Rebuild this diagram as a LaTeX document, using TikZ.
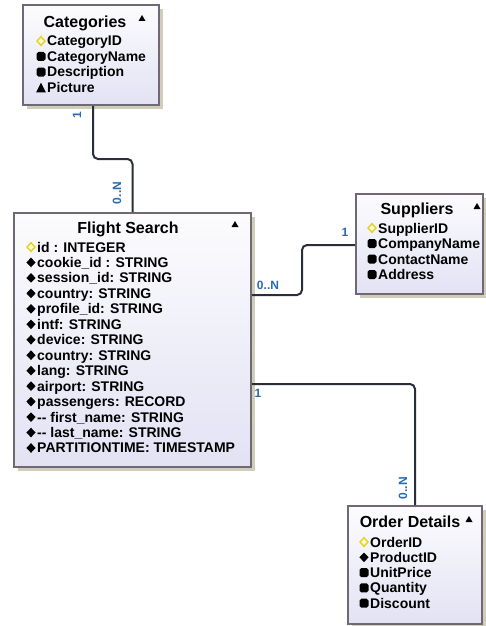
\documentclass[tikz,border=0pt]{standalone}
\usepackage{fontspec}
\setmainfont{Liberation Sans}
\usetikzlibrary{shadows}

\definecolor{boxline}{RGB}{112,104,116}
\definecolor{boxtop}{RGB}{252,252,254}
\definecolor{boxbot}{RGB}{226,226,244}
\definecolor{shadowc}{RGB}{196,194,168}
\definecolor{card}{RGB}{38,106,180}
\definecolor{keyfill}{RGB}{255,252,215}
\definecolor{keyline}{RGB}{230,210,30}
\definecolor{wire}{RGB}{40,46,58}

% attribute markers, drawn left of a row's text
\newcommand\keyat[1]{\filldraw[fill=keyfill, draw=keyline, line width=1.4pt]
  ([shift={(-6,-5)}]#1.base west) +(-4,0) -- +(0,-4.3) -- +(4,0) -- +(0,4.3) -- cycle;}
\newcommand\attrat[1]{\fill
  ([shift={(-6,-5)}]#1.base west) +(-4.6,0) -- +(0,-4.8) -- +(4.6,0) -- +(0,4.8) -- cycle;}
\newcommand\colat[1]{\fill[rounded corners=1.8pt]
  ([shift={(-6,-5)}]#1.base west) +(-4.5,-4.5) rectangle +(4.5,4.5);}
\newcommand\picat[1]{\fill
  ([shift={(-6,-5)}]#1.base west) +(-4.8,4.8) -- +(4.8,4.8) -- +(0,-4.8) -- cycle;}

\tikzset{
  entity/.style={draw=boxline, line width=2pt, anchor=north west, inner sep=0pt,
    top color=boxtop, bottom color=boxbot,
    drop shadow={shadow xshift=4pt, shadow yshift=-4pt, fill=shadowc, opacity=0.8}},
  title/.style={anchor=base, inner sep=0pt, font=\bfseries\fontsize{16}{16}\selectfont},
  row/.style={anchor=base west, inner sep=0pt, font=\bfseries\fontsize{14}{14}\selectfont},
  card/.style={text=card, inner sep=0pt, font=\bfseries\fontsize{12}{12}\selectfont},
  wire/.style={draw=wire, line width=2pt, rounded corners=5pt},
}

\begin{document}
\begin{tikzpicture}[x=1pt, y=-1pt]
\useasboundingbox (0,0) rectangle (485,626);

% entity boxes
\node[entity, minimum width=136pt, minimum height=100pt] (cat) at (22,4) {};
\node[entity, minimum width=237pt, minimum height=254pt] (fs) at (13,212) {};
\node[entity, minimum width=127pt, minimum height=100pt] (sup) at (355,193) {};
\node[entity, minimum width=134pt, minimum height=118pt] (od) at (347,505) {};

% sort markers
\foreach \x/\y in {142/18, 235/224, 477/206, 469/519}
  \fill (\x-3.5,\y+3) -- (\x+3.5,\y+3) -- (\x,\y-3) -- cycle;

% Categories
\node[title] (catT) at (85,27.5) {Categories};
\node[row] (cat1) at (47,46) {CategoryID};
\node[row] (cat2) at (47,61.5) {CategoryName};
\node[row] (cat3) at (47,77) {Description};
\node[row] (cat4) at (47,92.5) {Picture};
\keyat{cat1} \colat{cat2} \colat{cat3} \picat{cat4}

% Flight Search
\node[title] (fsT) at (128,233) {Flight Search};
\node[row] (fs0) at (37,252) {id : INTEGER};
\keyat{fs0}
\foreach \t [count=\i] in {cookie\_id : STRING, session\_id: STRING, country: STRING,
    profile\_id: STRING, intf: STRING, device: STRING, country: STRING, lang: STRING,
    airport: STRING, passengers: RECORD, -{}- first\_name: STRING, -{}- last\_name: STRING,
    PARTITIONTIME: TIMESTAMP}
  {\node[row] (fs\i) at (37,252+15.46*\i) {\t}; \attrat{fs\i}}

% Suppliers
\node[title] (supT) at (417,214.5) {Suppliers};
\node[row] (sup1) at (378,233) {SupplierID};
\node[row] (sup2) at (378,248.5) {CompanyName};
\node[row] (sup3) at (378,264) {ContactName};
\node[row] (sup4) at (378,279.5) {Address};
\keyat{sup1} \colat{sup2} \colat{sup3} \colat{sup4}

% Order Details
\node[title] (odT) at (410,527.5) {Order Details};
\node[row] (od1) at (370,547) {OrderID};
\node[row] (od2) at (370,562.3) {ProductID};
\node[row] (od3) at (370,577.6) {UnitPrice};
\node[row] (od4) at (370,592.9) {Quantity};
\node[row] (od5) at (370,608.2) {Discount};
\keyat{od1} \attrat{od2} \colat{od3} \colat{od4} \colat{od5}

% relationships
\draw[wire] ([xshift=2pt]cat.south) -- ([xshift=2pt]cat.south |- 0,159) -| (fs.north);
\draw[wire] (fs.east |- 0,295) -- (302,295) -- (302,245) -- (sup.west |- 0,245);
\draw[wire] (fs.east |- 0,384) -| (od.north);

% cardinalities
\node[card, rotate=90] (c1) at (77,115) {1};
\node[card, rotate=90] (c2) at (117,193) {0..N};
\node[card] (c3) at (268,285) {0..N};
\node[card] (c4) at (345,232) {1};
\node[card] (c5) at (258,393) {1};
\node[card, rotate=90] (c6) at (403,488) {0..N};
\end{tikzpicture}
\end{document}
